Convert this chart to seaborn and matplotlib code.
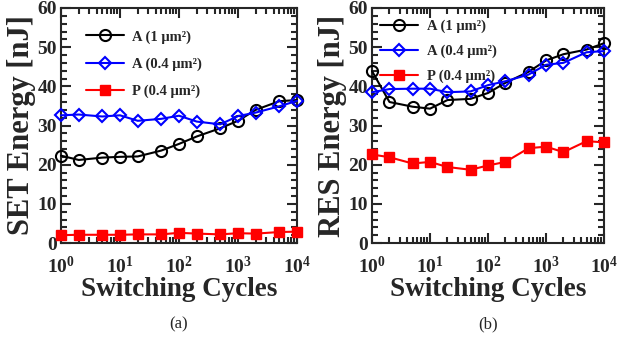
import numpy as np
import pandas as pd
import matplotlib
matplotlib.use("Agg")
import matplotlib.pyplot as plt
import seaborn as sns
from matplotlib.ticker import MultipleLocator, LogLocator, NullFormatter

cycles = [1, 2, 5, 10, 20, 50, 100, 200, 500, 1000, 2000, 5000, 10000]
labels = ["A (1 μm²)", "A (0.4 μm²)", "P (0.4 μm²)"]

set_a1 = [22.3, 21.2, 21.8, 22.0, 22.1, 23.6, 25.3, 27.2, 29.3, 31.2, 34.0, 36.2, 36.5]
set_a04 = [32.6, 32.8, 32.3, 32.6, 31.2, 31.7, 32.5, 31.0, 30.3, 32.4, 33.3, 34.9, 36.3]
set_p04 = [2.0, 2.1, 2.1, 2.1, 2.2, 2.2, 2.6, 2.4, 2.2, 2.5, 2.4, 2.8, 2.9]

res_a1 = [43.9, 36.0, 34.8, 34.3, 36.5, 36.8, 38.3, 40.9, 43.7, 46.6, 48.2, 49.4, 51.0]
res_a04 = [38.5, 39.3, 39.4, 39.4, 38.5, 38.7, 40.3, 41.3, 43.0, 45.5, 46.0, 48.7, 49.0]
res_p04 = [22.6, 21.9, 20.3, 20.7, 19.4, 18.7, 19.8, 20.7, 24.2, 24.6, 23.2, 26.0, 25.7]

sns.set_style("ticks")
plt.rcParams['font.family'] = ['Liberation Serif', 'DejaVu Serif']
plt.rcParams['font.weight'] = 'bold'
plt.rcParams['mathtext.fontset'] = 'custom'
plt.rcParams['mathtext.rm'] = 'Liberation Serif:bold'
plt.rcParams['mathtext.it'] = 'Liberation Serif:bold'
plt.rcParams['mathtext.bf'] = 'Liberation Serif:bold'

styles = [
    dict(color='black', marker='o', mfc='none', mec='black', ms=8, mew=1.5),
    dict(color='#0000ff', marker='D', mfc='none', mec='#0000ff', ms=6, mew=1.5),
    dict(color='#ff0000', marker='s', mfc='#ff0000', mec='#ff0000', ms=7, mew=1.0),
]


def draw_panel(ax, series, ylabel, caption, leg_anchor, leg_space):
    for lab, vals, st in zip(labels, series, styles):
        df = pd.DataFrame({"cycles": cycles, "energy": vals})
        sns.lineplot(data=df, x="cycles", y="energy", ax=ax, label=lab,
                     linewidth=1.5, clip_on=False, zorder=3, **st)
    ax.set_xscale('log')
    ax.set_xlim(1, 1e4)
    ax.set_ylim(0, 60)
    ax.yaxis.set_major_locator(MultipleLocator(10))
    ax.yaxis.set_minor_locator(MultipleLocator(2))
    ax.xaxis.set_major_locator(LogLocator(base=10, numticks=10))
    ax.xaxis.set_minor_locator(LogLocator(base=10, subs=np.arange(2, 10), numticks=10))
    ax.xaxis.set_minor_formatter(NullFormatter())
    ax.tick_params(which='both', direction='in', top=True, right=True,
                   labelsize=14, width=1.5)
    ax.tick_params(which='major', length=7)
    ax.tick_params(axis='x', which='major', pad=9)
    ax.tick_params(axis='y', which='major', pad=3)
    ax.tick_params(which='minor', length=4)
    for sp in ax.spines.values():
        sp.set_linewidth(1.5)
    ax.set_xlabel("Switching Cycles", fontsize=19.5, fontweight='bold', labelpad=0)
    ax.set_ylabel(ylabel, fontsize=22, fontweight='bold', labelpad=1)
    ax.legend(loc='upper left', bbox_to_anchor=leg_anchor, frameon=False,
              prop={'size': 10.5, 'weight': 'bold'}, handlelength=2.6,
              labelspacing=leg_space, borderaxespad=0, handletextpad=0.6)
    ax.text(0.5, -0.345, caption, transform=ax.transAxes, ha='center',
            va='center', fontsize=12, fontweight='normal')


fig = plt.figure(figsize=(6.19, 3.45), dpi=100)
ax1 = fig.add_axes([61 / 619, 102 / 345, 236 / 619, 235 / 345])
ax2 = fig.add_axes([372 / 619, 102 / 345, 232 / 619, 235 / 345])

draw_panel(ax1, [set_a1, set_a04, set_p04], "SET Energy [nJ]", "(a)", (0.08, 0.93), 0.95)
draw_panel(ax2, [res_a1, res_a04, res_p04], "RES Energy [nJ]", "(b)", (0.01, 0.975), 0.8)

fig.savefig("out.png", dpi=100)
